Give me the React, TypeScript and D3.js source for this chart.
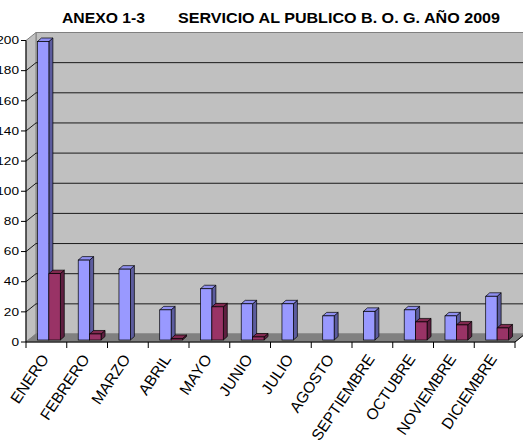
import * as d3 from "d3";

const months = [
  "ENERO", "FEBRERO", "MARZO", "ABRIL", "MAYO", "JUNIO",
  "JULIO", "AGOSTO", "SEPTIEMBRE", "OCTUBRE", "NOVIEMBRE", "DICIEMBRE",
];
const serieA = [198, 53, 47, 20, 34, 24, 24, 16, 19, 20, 16, 29];
const serieB = [44, 4, 0, 1, 22, 2, 0, 0, 0, 12, 10, 8];
const yTicks = [0, 20, 40, 60, 80, 100, 120, 140, 160, 180, 200];
const seriesKeys = ["a", "b"];

const W = 523;
const H = 445;
const FONT = "'Liberation Sans', Arial, sans-serif";

// wall depth offset and bar depth offset
const DX = 10, DY = -8;
const BDX = 4, BDY = -3.5;
const BSX = 2.5, BSY = -2;

const colors: Record<string, { front: string; side: string; top: string }> = {
  a: { front: "#9999FF", side: "#5C5C9E", top: "#8F8FF0" },
  b: { front: "#993366", side: "#5E1F40", top: "#80294F" },
};

export default function App() {
  const x0 = d3.scaleBand<string>().domain(months).range([26, 515]);
  const bw = x0.bandwidth();
  const x1 = d3.scaleBand<string>().domain(seriesKeys).range([bw * 0.22, bw * 0.78]);
  const y = d3.scaleLinear().domain([0, 200]).range([342, 40.5]);

  const left = 26, right = 515, y0 = y(0), yTop = y(200);

  const bar = (cat: string, key: string, v: number, i: number) => {
    if (!v) return null;
    const c = colors[key];
    const x = (x0(cat) ?? 0) + (x1(key) ?? 0) + BSX;
    const w = x1.bandwidth();
    const yb = y0 + BSY;
    const yt = yb - (y0 - y(v));
    const st = "#000";
    return (
      <g key={key + i}>
        <polygon
          points={`${x + w},${yt} ${x + w + BDX},${yt + BDY} ${x + w + BDX},${yb + BDY} ${x + w},${yb}`}
          fill={c.side} stroke={st} strokeWidth={0.7} />
        <polygon
          points={`${x},${yt} ${x + BDX},${yt + BDY} ${x + w + BDX},${yt + BDY} ${x + w},${yt}`}
          fill={c.top} stroke={st} strokeWidth={0.7} />
        <rect x={x} y={yt} width={w} height={yb - yt} fill={c.front} stroke={st} strokeWidth={0.7} />
      </g>
    );
  };

  return (
    <div style={{ position: "absolute", left: 0, top: 0 }}>
      <svg width={W} height={H} style={{ display: "block", background: "#fff" }} fontFamily={FONT}>
        <text x={62} y={23} fontSize={15} fontWeight="bold" textLength={83} lengthAdjust="spacingAndGlyphs">ANEXO 1-3</text>
        <text x={178} y={23} fontSize={15} fontWeight="bold" textLength={322} lengthAdjust="spacingAndGlyphs">SERVICIO AL PUBLICO B. O. G. AÑO 2009</text>

        {/* walls */}
        <polygon
          points={`${left + DX},${yTop + DY} ${right + DX + 20},${yTop + DY} ${right + DX + 20},${y0 + DY} ${left + DX},${y0 + DY}`}
          fill="#C0C0C0" stroke="#808080" strokeWidth={1} />
        <polygon
          points={`${left},${yTop} ${left + DX},${yTop + DY} ${left + DX},${y0 + DY} ${left},${y0}`}
          fill="#C0C0C0" stroke="#808080" strokeWidth={1} />
        <polygon
          points={`${left},${y0} ${left + DX},${y0 + DY} ${right + DX},${y0 + DY} ${right},${y0}`}
          fill="#808080" stroke="#808080" strokeWidth={1} />

        {/* gridlines */}
        {yTicks.filter((t) => t > 0 && t < 200).map((t) => (
          <polyline key={t}
            points={`${left},${y(t)} ${left + DX},${y(t) + DY} ${W + 5},${y(t) + DY}`}
            fill="none" stroke="#1a1a1a" strokeWidth={1} />
        ))}

        {/* bars */}
        {months.map((m, i) => (
          <g key={m}>
            {bar(m, "a", serieA[i], i)}
            {bar(m, "b", serieB[i], i)}
          </g>
        ))}

        {/* y axis */}
        <line x1={left} x2={left} y1={yTop} y2={y0} stroke="#000" />
        {yTicks.map((t) => (
          <g key={t}>
            <line x1={left - 5} x2={left} y1={y(t)} y2={y(t)} stroke="#000" />
            <text transform={`translate(19,${y(t)}) scale(1.3,1)`} dy="0.36em" textAnchor="end" fontSize={10.5}>{t}</text>
          </g>
        ))}

        {/* x axis */}
        <line x1={left} x2={right} y1={y0} y2={y0} stroke="#000" />
        <line x1={right} x2={right + DX} y1={y0} y2={y0 + DY} stroke="#000" />
        {d3.range(months.length + 1).map((i) => {
          const xx = left + i * bw;
          return <line key={i} x1={xx} x2={xx} y1={y0} y2={y0 + 6} stroke="#000" />;
        })}
        {months.map((m) => {
          const cx = (x0(m) ?? 0) + bw / 2 + 3;
          return (
            <text key={m} transform={`translate(${cx},${359}) rotate(-56)`}
              textAnchor="end" fontSize={15.5}>{m}</text>
          );
        })}
      </svg>
    </div>
  );
}
